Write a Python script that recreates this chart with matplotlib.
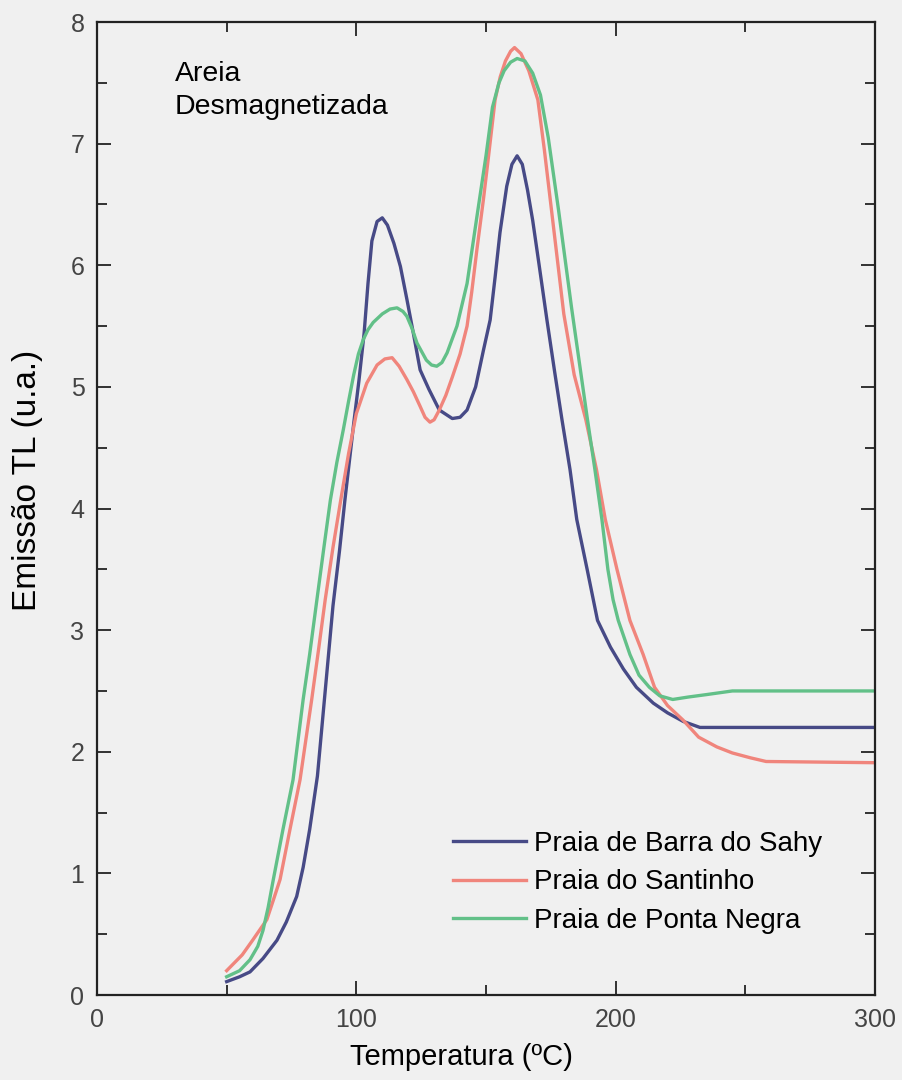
import numpy as np
import matplotlib
matplotlib.use("Agg")
import matplotlib.pyplot as plt
from matplotlib.ticker import MultipleLocator

plt.rcParams['font.family'] = ['Liberation Sans', 'DejaVu Sans']

# Praia de Barra do Sahy
t_sahy = [50, 55, 59, 64, 69.4, 73, 77, 79.5, 82, 85, 88, 91, 93.5, 95.6, 99, 101, 103, 104.5,
          106, 108, 110, 112, 114.5, 117, 119.5, 122, 124.6, 128, 132, 137, 140, 142.7, 146,
          149, 151.6, 153.5, 155.4, 158, 160, 162, 164, 166, 168, 170.5, 173.5, 176.5, 179.3,
          182.4, 185, 189, 193, 198, 203, 208, 214.5, 220, 226, 232.5, 250, 300]
y_sahy = [0.11, 0.15, 0.19, 0.3, 0.45, 0.6, 0.81, 1.05, 1.36, 1.8, 2.5, 3.2, 3.65, 4.07, 4.7, 5.05,
          5.44, 5.85, 6.2, 6.36, 6.39, 6.33, 6.18, 5.99, 5.72, 5.44, 5.14, 4.98, 4.81, 4.74, 4.75,
          4.81, 5.0, 5.3, 5.55, 5.9, 6.27, 6.65, 6.83, 6.9, 6.83, 6.62, 6.37, 6.0, 5.55, 5.12,
          4.73, 4.32, 3.91, 3.5, 3.08, 2.86, 2.68, 2.53, 2.4, 2.32, 2.25, 2.2, 2.2, 2.2]

# Praia do Santinho
t_sant = [50, 56, 60, 65.5, 68, 70.6, 74.4, 78.3, 82.8, 85.5, 88, 91, 94, 97, 100, 104, 108, 111,
          113.8, 116.5, 119.5, 122, 124.6, 126.5, 128.4, 130, 132, 134.5, 137, 140, 142.7, 144.5,
          146.5, 149, 151, 153.5, 155.5, 157.5, 159.5, 161, 163.5, 166.5, 170, 172.5, 175, 177.5,
          180, 184, 188.5, 192.6, 196, 200.5, 205.5, 210.6, 215, 220, 226, 232, 239, 245, 252,
          258, 300]
y_sant = [0.2, 0.33, 0.45, 0.62, 0.78, 0.95, 1.36, 1.77, 2.43, 2.85, 3.25, 3.68, 4.07, 4.45, 4.78,
          5.03, 5.18, 5.23, 5.24, 5.17, 5.06, 4.96, 4.84, 4.75, 4.71, 4.73, 4.81, 4.93, 5.08, 5.27,
          5.5, 5.78, 6.13, 6.54, 6.9, 7.36, 7.55, 7.68, 7.76, 7.79, 7.74, 7.6, 7.36, 6.95, 6.5,
          6.05, 5.6, 5.1, 4.73, 4.32, 3.91, 3.5, 3.08, 2.8, 2.53, 2.38, 2.26, 2.12, 2.04, 1.99,
          1.95, 1.92, 1.91]

# Praia de Ponta Negra
t_pn = [50, 55, 59, 62, 64, 66, 68, 71.7, 75.6, 79.5, 82, 84.8, 87.5, 90, 92.5, 95, 97, 99, 100.8,
        102.7, 104.5, 106.5, 110, 113, 115.7, 118, 119.5, 121.5, 123.4, 127, 129, 131, 133, 135,
        138.8, 142.7, 146.5, 150, 152.5, 155, 157, 159.5, 162, 165, 168, 171, 174, 176, 178,
        180.5, 183, 186, 189, 192, 194.7, 197, 199, 201, 205.5, 209, 213, 217, 222, 228, 235,
        245, 300]
y_pn = [0.15, 0.2, 0.29, 0.4, 0.53, 0.72, 0.95, 1.36, 1.77, 2.43, 2.8, 3.25, 3.68, 4.07, 4.38, 4.65,
        4.88, 5.1, 5.27, 5.39, 5.47, 5.53, 5.6, 5.64, 5.65, 5.62, 5.58, 5.48, 5.36, 5.22, 5.18,
        5.17, 5.2, 5.28, 5.5, 5.85, 6.4, 6.9, 7.3, 7.5, 7.6, 7.67, 7.7, 7.68, 7.58, 7.4, 7.05,
        6.75, 6.45, 6.05, 5.65, 5.2, 4.75, 4.32, 3.91, 3.5, 3.25, 3.08, 2.8, 2.63, 2.53, 2.46,
        2.43, 2.45, 2.47, 2.5, 2.5]

labels = ['Praia de Barra do Sahy', 'Praia do Santinho', 'Praia de Ponta Negra']
colors = ['#474a86', '#f0857c', '#62c088']

bg = '#f0f0f0'
fig = plt.figure(figsize=(9.03, 10.8), dpi=100, facecolor=bg)
ax = fig.add_axes([0.1074, 0.0787, 0.8616, 0.9009], facecolor=bg)

ax.plot(t_sahy, y_sahy, color=colors[0], lw=2.4, label=labels[0])
ax.plot(t_sant, y_sant, color=colors[1], lw=2.4, label=labels[1])
ax.plot(t_pn, y_pn, color=colors[2], lw=2.4, label=labels[2])

ax.set_xlim(0, 300)
ax.set_ylim(0, 8)
ax.xaxis.set_major_locator(MultipleLocator(100))
ax.xaxis.set_minor_locator(MultipleLocator(50))
ax.yaxis.set_major_locator(MultipleLocator(1))
ax.yaxis.set_minor_locator(MultipleLocator(0.5))
ax.tick_params(which='both', direction='in', top=True, right=True, color='#222222', width=1.3)
ax.tick_params(which='major', length=10, labelsize=18, labelcolor='#444444', pad=9)
ax.tick_params(which='minor', length=7)
for s in ax.spines.values():
    s.set_linewidth(1.6)
    s.set_color('#222222')

ax.set_xlabel('Temperatura (ºC)', fontsize=21)
ax.xaxis.set_label_coords(0.469, -0.049)
ax.set_ylabel('Emissão TL (u.a.)', fontsize=24)
ax.yaxis.set_label_coords(-0.07, 0.529)

ax.text(30, 7.68, 'Areia\nDesmagnetizada', fontsize=20.5, va='top', ha='left', linespacing=1.35)

ax.legend(loc='upper left', bbox_to_anchor=(0.458, 0.169), frameon=False, fontsize=20,
          handlelength=2.6, handletextpad=0.3, labelspacing=0.46, borderpad=0, borderaxespad=0)

fig.savefig('out.png', dpi=100, facecolor=bg)
